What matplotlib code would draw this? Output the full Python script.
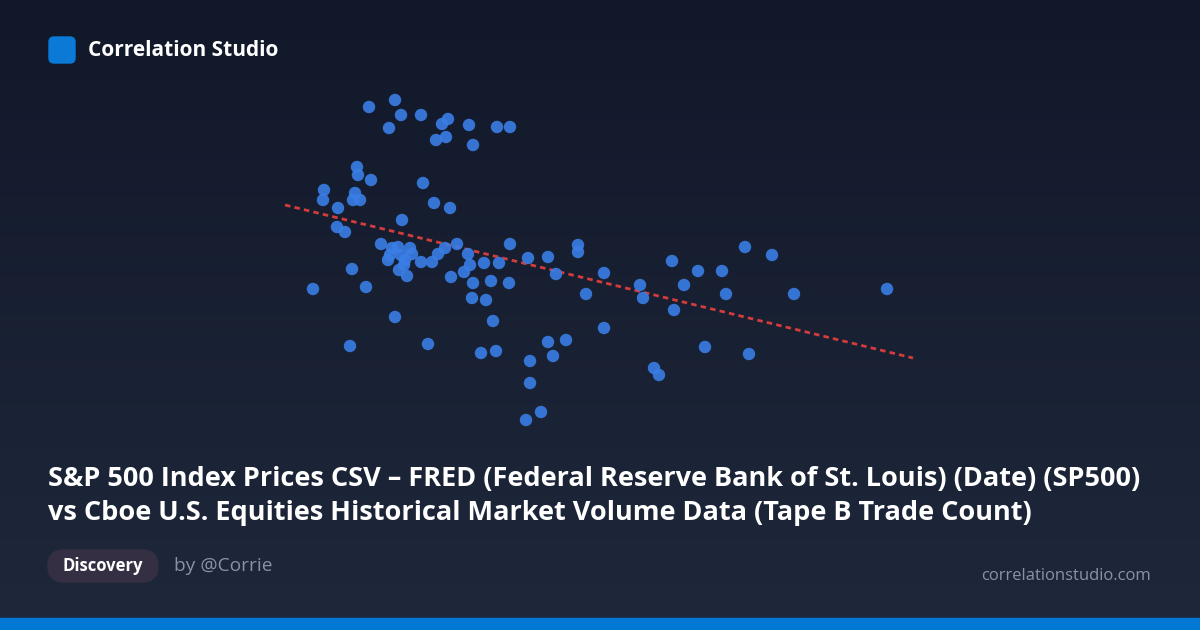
import matplotlib
matplotlib.use("Agg")
import matplotlib.pyplot as plt
import numpy as np
from matplotlib.patches import FancyBboxPatch, Rectangle

plt.rcParams['font.family'] = ['Open Sans', 'DejaVu Sans']

xs = [369,395,389,401,421,442,448,436,446,469,473,497,510,
      357,358,371,324,323,355,353,360,338,423,434,450,402,
      337,345,381,392,398,390,388,401,405,410,412,399,407,404,421,432,438,445,457,468,470,464,484,499,451,473,491,509,472,486,493,510,528,548,578,578,556,604,586,352,366,313,395,350,428,481,496,530,548,566,553,530,526,541,604,640,643,672,684,698,722,726,745,772,794,887,674,705,749,654,659]
ys = [107,100,128,115,115,124,119,140,137,125,145,127,127,
      167,175,180,190,200,193,200,200,208,183,203,208,220,
      227,232,244,248,247,255,260,255,260,248,254,270,276,265,262,262,254,248,244,254,265,272,263,263,277,283,281,283,298,300,321,244,258,257,245,252,274,273,294,269,287,289,317,346,344,353,351,361,342,340,356,383,420,412,328,285,298,261,285,271,271,294,247,255,294,289,310,347,354,368,375]
trend_x = [285, 913]
trend_y = [205, 358]

W, H = 1200, 630
fig = plt.figure(figsize=(12, 6.3), dpi=100)
bg = fig.add_axes([0, 0, 1, 1])
bg.set_xlim(0, W); bg.set_ylim(H, 0); bg.axis('off')
grad = np.linspace(0, 1, 256).reshape(-1, 1)
c0 = np.array([0x11, 0x18, 0x2a]) / 255
c1 = np.array([0x1f, 0x28, 0x3b]) / 255
img = c0 + (c1 - c0) * grad[..., None]
bg.imshow(img, extent=[0, W, H, 0], aspect='auto', zorder=0)
bg.add_patch(Rectangle((0, 618), W, 12, color='#0078d4', zorder=1))

bg.add_patch(FancyBboxPatch((49, 37), 26, 26, boxstyle="round,pad=0,rounding_size=5", color='#0a7ad6', zorder=2))
bg.text(88, 51, "Correlation Studio", color='white', fontsize=15, fontweight='bold', va='center', zorder=3)

bg.plot(trend_x, trend_y, color='#d23c3c', lw=2, ls=(0, (2, 1.5)), zorder=3)
bg.scatter(xs, ys, s=80, color='#3a7ee6', alpha=0.9, edgecolors='none', zorder=4)

bg.text(48, 479, "S&P 500 Index Prices CSV – FRED (Federal Reserve Bank of St. Louis) (Date) (SP500)",
        color='white', fontsize=19.5, fontweight='bold', va='center', zorder=3)
bg.text(48, 513, "vs Cboe U.S. Equities Historical Market Volume Data (Tape B Trade Count)",
        color='white', fontsize=19.5, fontweight='bold', va='center', zorder=3)

bg.add_patch(FancyBboxPatch((48, 550), 110, 32, boxstyle="round,pad=0,rounding_size=16", color='#342f42', zorder=2))
bg.text(103, 566, "Discovery", color='white', fontsize=12, fontweight='bold', va='center', ha='center', zorder=3)
bg.text(174, 566, "by @Corrie", color='#8a93a6', fontsize=13.8, va='center', zorder=3)
bg.text(1151, 576, "correlationstudio.com", color='#8a93a6', fontsize=12, va='center', ha='right', zorder=3)

fig.savefig("out.png", dpi=100)
